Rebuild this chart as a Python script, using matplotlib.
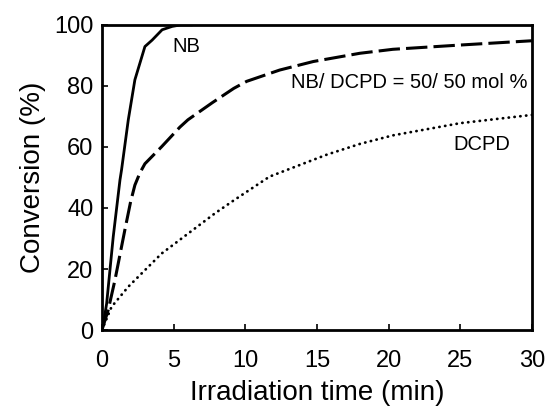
import matplotlib
matplotlib.use("Agg")
import matplotlib.pyplot as plt

plt.rcParams['font.family'] = ['Liberation Sans', 'DejaVu Sans']

# ── Data ──────────────────────────────────────────────────────
nb_t    = [0, 0.1, 0.33, 0.79, 1.26, 1.37, 1.84, 2.3, 3.0, 3.5, 4.2, 4.9, 5.5, 6.3]
nb_conv = [0, 2, 8.7, 30.6, 49.2, 52.5, 68.9, 82, 92.9, 95, 98.4, 99.5, 100, 100]

mix_t    = [0, 0.44, 0.91, 1.6, 2.0, 2.3, 2.65, 3.0, 4.17, 5.44, 6.0, 7.7, 9.2, 10.1,
            12.4, 14.75, 18, 20.3, 25, 30]
mix_conv = [0, 6.6, 16.4, 32.8, 42, 47.5, 51.5, 54.5, 60.1, 66.5, 68.9, 74.5, 79.2, 81.5,
            85.2, 88, 90.7, 92.0, 93.4, 94.8]

dcpd_t    = [0, 0.67, 1.84, 4.17, 7.9, 9.2, 11.7, 15.7, 18, 20.3, 25, 30]
dcpd_conv = [0, 7.6, 14.2, 25.1, 38.3, 42.5, 50.3, 57.5, 61, 63.8, 67.8, 70.5]

x_ticks = [0, 5, 10, 15, 20, 25, 30]
y_ticks = [0, 20, 40, 60, 80, 100]

# ── Figure ────────────────────────────────────────────────────
fig = plt.figure(figsize=(5.45, 4.08), dpi=100)
ax = fig.add_axes([0.187, 0.191, 0.789, 0.748])

ax.plot(nb_t, nb_conv, color='black', lw=2.0, solid_capstyle='round')
ax.plot(mix_t, mix_conv, color='black', lw=2.2, linestyle=(0, (7, 2)))
ax.plot(dcpd_t, dcpd_conv, color='black', lw=2.0,
        linestyle=(0, (0.1, 2.0)), dash_capstyle='round')

ax.text(4.95, 92.9, "NB", fontsize=14.5, va='center', ha='left')
ax.text(29.7, 81, "NB/ DCPD = 50/ 50 mol %", fontsize=14.5, va='center', ha='right')
ax.text(26.5, 60.7, "DCPD", fontsize=14.5, va='center', ha='center')

ax.set_xlim(0, 30)
ax.set_ylim(0, 100)
ax.set_xticks(x_ticks)
ax.set_yticks(y_ticks)
ax.tick_params(direction='in', length=4, width=1.2, labelsize=17,
               top=False, right=False)
ax.tick_params(axis='x', pad=14)
ax.tick_params(axis='y', pad=6)
for spine in ax.spines.values():
    spine.set_linewidth(2)

ax.set_xlabel("Irradiation time (min)", fontsize=20, labelpad=6)
ax.set_ylabel("Conversion (%)", fontsize=20, labelpad=6)

fig.savefig("out.png", dpi=100)
